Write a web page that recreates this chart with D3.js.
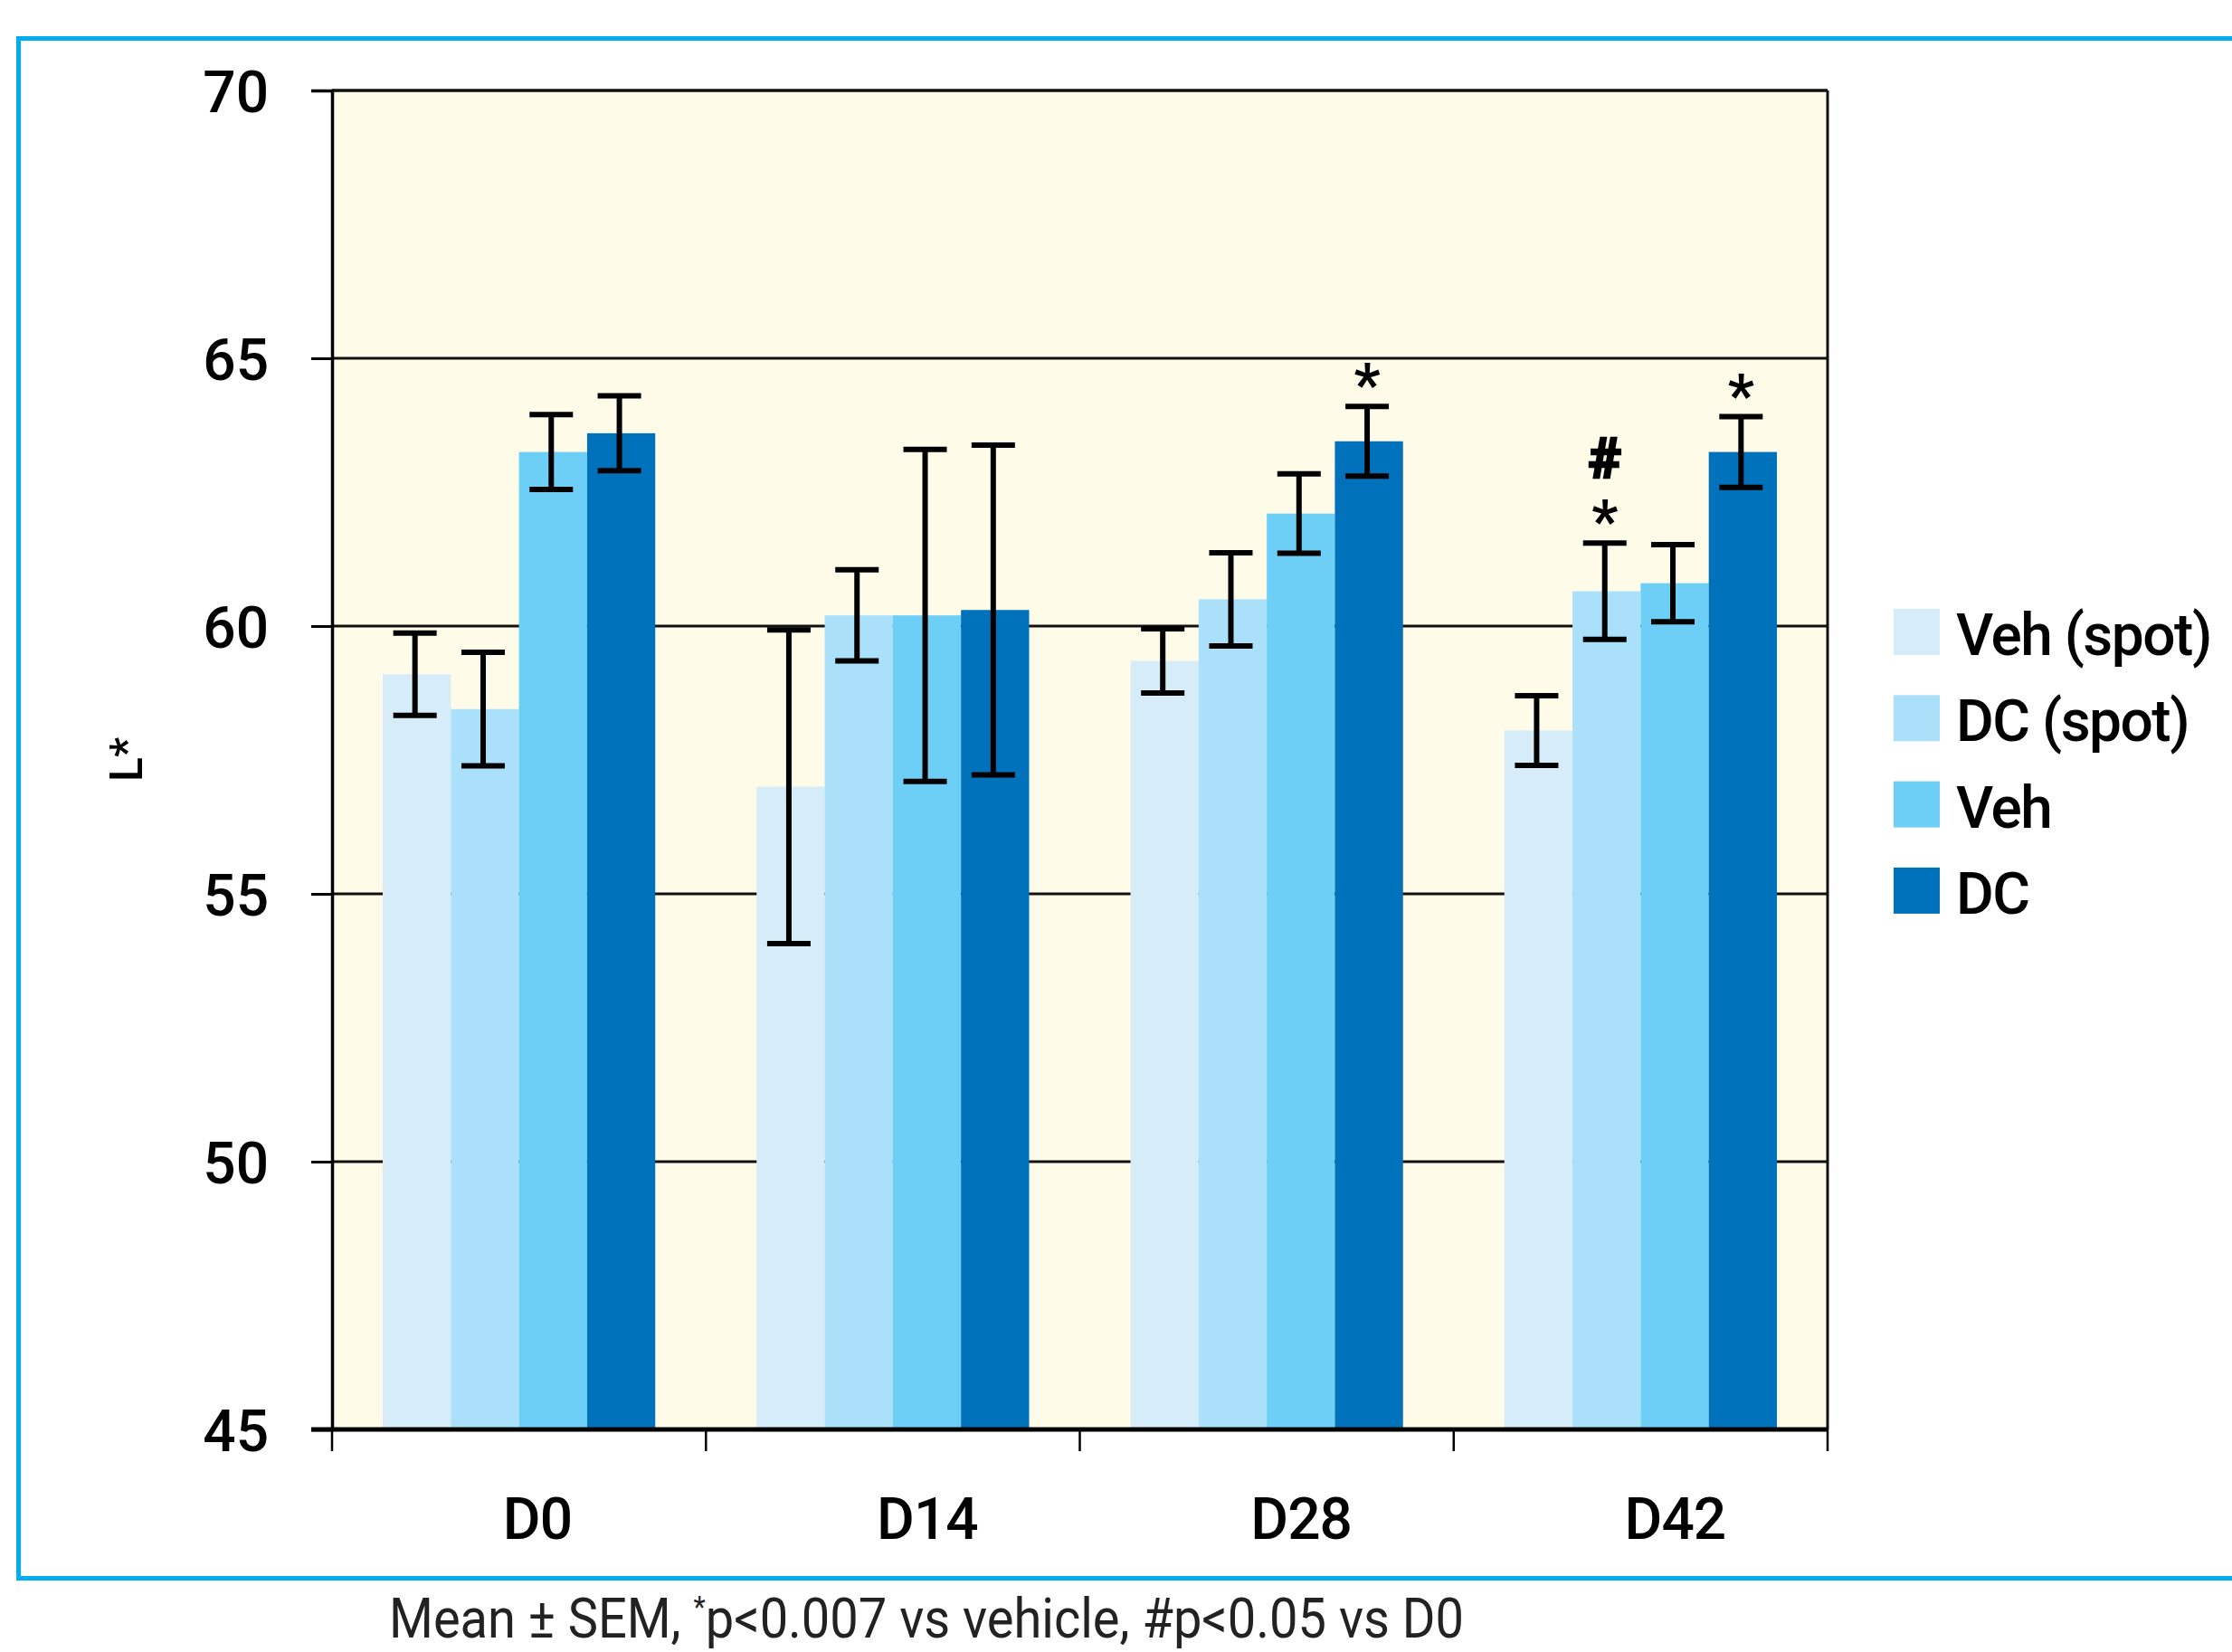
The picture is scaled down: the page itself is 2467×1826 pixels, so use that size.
<!DOCTYPE html>
<html>
<head>
<meta charset="utf-8">
<script src="https://cdn.jsdelivr.net/npm/d3@7"></script>
<style>
  body { margin: 0; background: #fff; }
  svg text { font-family: Roboto, "Noto Sans", sans-serif; }
</style>
</head>
<body>
<div id="chart"></div>
<script>
// Data
var categories = ["D0", "D14", "D28", "D42"];
var series = ["Veh (spot)", "DC (spot)", "Veh", "DC"];
var colors = ["#d6ecf9", "#abe0fa", "#6dcff6", "#0071bb"];

var vehSpotMean = [59.1, 57.0, 59.35, 58.05];
var dcSpotMean  = [58.45, 60.2, 60.5, 60.65];
var vehMean     = [63.25, 60.2, 62.1, 60.8];
var dcMean      = [63.6, 60.3, 63.45, 63.25];

var vehSpotSem = [0.77, 2.93, 0.6, 0.65];
var dcSpotSem  = [1.06, 0.85, 0.87, 0.9];
var vehSem     = [0.7, 3.1, 0.74, 0.72];
var dcSem      = [0.7, 3.08, 0.65, 0.66];

var yTicks = [45, 50, 55, 60, 65, 70];

// significance marks: category, series, symbols stacked from bottom up
var marks = [
  {cat: "D28", ser: "DC", sym: ["*"]},
  {cat: "D42", ser: "DC (spot)", sym: ["*", "#"]},
  {cat: "D42", ser: "DC", sym: ["*"]}
];

function drawChart() {
  var W = 2467, H = 1826;
  var plotLeft = 367, plotRight = 2020, plotTop = 100, plotBottom = 1580;

  var means = [vehSpotMean, dcSpotMean, vehMean, dcMean];
  var sems = [vehSpotSem, dcSpotSem, vehSem, dcSem];

  var rows = [];
  categories.forEach(function(c, i) {
    series.forEach(function(s, j) {
      rows.push({cat: c, ser: s, j: j, v: means[j][i], e: sems[j][i]});
    });
  });

  var svg = d3.select("#chart").append("svg")
    .attr("width", W).attr("height", H);

  //Blue frame (open to the right)
  svg.append("rect")
    .attr("x", 20.5).attr("y", 42.5)
    .attr("width", 2600).attr("height", 1702)
    .attr("fill", "none")
    .attr("stroke", "#00aeef")
    .attr("stroke-width", 5);

  //Scales
  var x0 = d3.scaleBand().domain(categories).range([plotLeft, plotRight]).padding(0);
  var x1 = d3.scaleBand().domain(series).range([0, x0.bandwidth()])
    .paddingInner(0).paddingOuter(0.744);
  var y = d3.scaleLinear().domain([45, 70]).range([plotBottom, plotTop]);

  //Plot background
  svg.append("rect")
    .attr("x", plotLeft).attr("y", plotTop)
    .attr("width", plotRight - plotLeft).attr("height", plotBottom - plotTop)
    .attr("fill", "#fefbe8");

  //Gridlines
  svg.append("g").selectAll("line")
    .data(yTicks.filter(function(d) { return d > 45; }))
    .enter().append("line")
    .attr("x1", plotLeft).attr("x2", plotRight)
    .attr("y1", function(d) { return y(d); })
    .attr("y2", function(d) { return y(d); })
    .attr("stroke", "#111")
    .attr("stroke-width", 3);

  //Bars
  svg.append("g").selectAll("rect")
    .data(rows)
    .enter().append("rect")
    .attr("x", function(d) { return x0(d.cat) + x1(d.ser); })
    .attr("y", function(d) { return y(d.v); })
    .attr("width", x1.bandwidth())
    .attr("height", function(d) { return y(45) - y(d.v); })
    .attr("fill", function(d) { return colors[d.j]; });

  //Error bars
  var capW = 48;
  var eb = svg.append("g").attr("stroke", "#000").attr("stroke-width", 6);
  rows.forEach(function(d) {
    var cx = x0(d.cat) + x1(d.ser) + x1.bandwidth() / 2 - 2;
    var yHi = y(d.v + d.e), yLo = y(d.v - d.e);
    eb.append("line").attr("x1", cx).attr("x2", cx).attr("y1", yHi).attr("y2", yLo);
    eb.append("line").attr("x1", cx - capW / 2).attr("x2", cx + capW / 2).attr("y1", yHi).attr("y2", yHi);
    eb.append("line").attr("x1", cx - capW / 2).attr("x2", cx + capW / 2).attr("y1", yLo).attr("y2", yLo);
  });

  //Significance marks
  marks.forEach(function(m) {
    var i = categories.indexOf(m.cat), j = series.indexOf(m.ser);
    var cx = x0(m.cat) + x1(m.ser) + x1.bandwidth() / 2 - 2;
    var yCap = y(means[j][i] + sems[j][i]);
    m.sym.forEach(function(s) {
      svg.append("text")
        .attr("x", cx)
        .attr("y", s == "*" ? yCap - 2 : yCap - 72)
        .attr("text-anchor", "middle")
        .attr("font-size", s == "*" ? 64 : 62)
        .attr("font-weight", 700)
        .attr("font-family", s == "*" ? "Roboto, sans-serif" : "'DejaVu Sans', sans-serif")
        .attr("fill", "#000")
        .attr("stroke", "#000")
        .attr("stroke-width", s == "*" ? 0 : 2.5)
        .text(s);
    });
  });

  //Plot frame: top and right
  svg.append("line").attr("x1", plotLeft).attr("x2", plotRight).attr("y1", plotTop).attr("y2", plotTop)
    .attr("stroke", "#111").attr("stroke-width", 3);
  svg.append("line").attr("x1", plotRight).attr("x2", plotRight).attr("y1", plotTop).attr("y2", plotBottom)
    .attr("stroke", "#111").attr("stroke-width", 3);

  //Y axis
  var yAxis = d3.axisLeft(y).tickValues(yTicks).tickSize(23).tickPadding(47);
  var gy = svg.append("g").attr("transform", "translate(" + plotLeft + ",0)").call(yAxis);
  gy.select(".domain").attr("stroke", "#000").attr("stroke-width", 3.5);
  gy.selectAll(".tick line").attr("stroke", "#000").attr("stroke-width", 3);
  gy.selectAll(".tick text")
    .attr("font-size", 64).attr("font-weight", 500).attr("fill", "#000")
    .attr("font-family", "Roboto, sans-serif")
    .attr("dy", "0.36em");

  //X axis: baseline and boundary ticks
  svg.append("line").attr("x1", 344).attr("x2", plotRight).attr("y1", plotBottom).attr("y2", plotBottom)
    .attr("stroke", "#000").attr("stroke-width", 5);
  var edges = categories.map(function(c) { return x0(c); }).concat([x0.range()[1]]);
  svg.append("g").selectAll("line")
    .data(edges)
    .enter().append("line")
    .attr("x1", function(d) { return d; }).attr("x2", function(d) { return d; })
    .attr("y1", plotBottom).attr("y2", plotBottom + 24)
    .attr("stroke", "#000").attr("stroke-width", 2.5);
  svg.append("g").selectAll("text")
    .data(categories)
    .enter().append("text")
    .attr("x", function(d) { return x0(d) + 0.457 * x0.bandwidth(); })
    .attr("y", 1701)
    .attr("font-size", 64).attr("font-weight", 500).attr("fill", "#000")
    .attr("letter-spacing", -1)
    .text(function(d) { return d; });

  //Y label
  svg.append("text")
    .attr("transform", "translate(157,864) rotate(-90)")
    .attr("font-size", 50).attr("font-weight", 500).attr("fill", "#000")
    .text("L*");

  //Legend
  var lg = svg.append("g").selectAll("g")
    .data(series)
    .enter().append("g")
    .attr("transform", function(d, i) { return "translate(2093," + (673 + i * 95.3) + ")"; });
  lg.append("rect")
    .attr("width", 51).attr("height", 51)
    .attr("fill", function(d, i) { return colors[i]; });
  lg.append("text")
    .attr("x", 69).attr("y", 51)
    .attr("font-size", 64).attr("font-weight", 500).attr("fill", "#000")
    .attr("letter-spacing", -1.5)
    .text(function(d) { return d; });

  //Footnote
  var fn = svg.append("text")
    .attr("x", 430).attr("y", 1810)
    .attr("font-size", 62).attr("fill", "#222")
    .attr("textLength", 1188).attr("lengthAdjust", "spacingAndGlyphs");
  fn.append("tspan").text("Mean \u00b1 SEM, ");
  fn.append("tspan").attr("dy", -22).attr("font-size", 34).text("*");
  fn.append("tspan").attr("dy", 22).text("p<0.007 vs vehicle, #p<0.05 vs D0");
}

drawChart();
</script>
</body>
</html>
